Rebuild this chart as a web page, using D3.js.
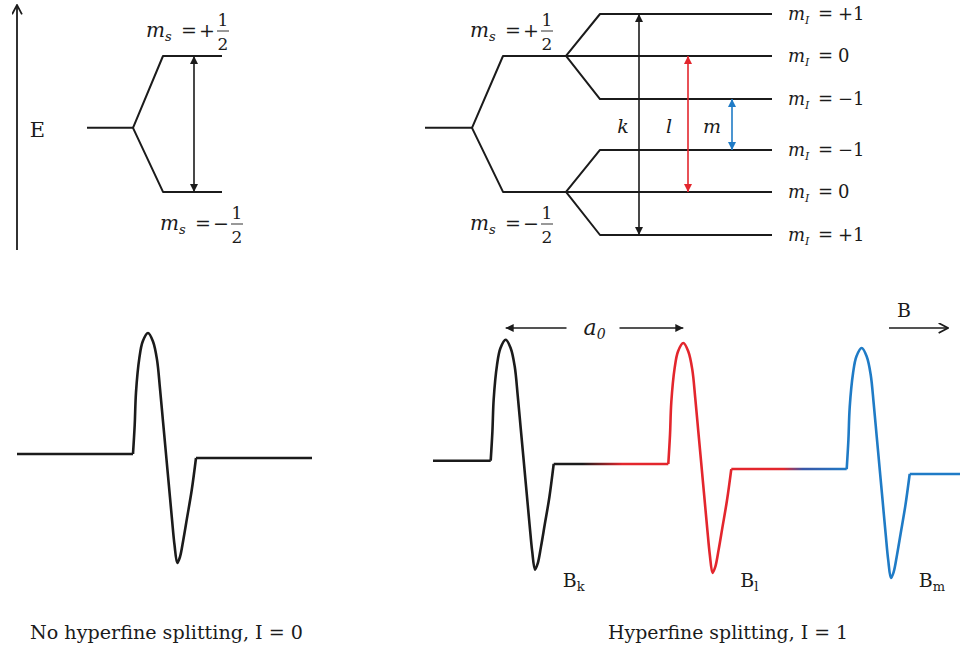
<!DOCTYPE html>
<html>
<head>
<meta charset="utf-8">
<script src="https://cdn.jsdelivr.net/npm/d3@7"></script>
<style>
body{margin:0;background:#fff}
svg{display:block}
</style>
</head>
<body>
<svg id="fig" width="960" height="649"></svg>
<script>
'use strict'

// ---- data ----
// energies in arbitrary units, +1 = highest hyperfine level, -1 = lowest
var centerLevel = -0.03;
var spinLevels = [0.62, -0.61];            // ms = +1/2, ms = -1/2
var spinSigns = ['+', '\u2212'];
var hyperLevels = [1.0, 0.62, 0.23, -0.23, -0.61, -1.0];
var hyperParent = [0, 0, 0, 1, 1, 1];
var hyperLabels = ['+1', '0', '\u22121', '\u22121', '0', '+1'];
var transNames = ['k', 'l', 'm'];
var transFrom = [0, 1, 2];
var transTo = [5, 4, 3];

// first-derivative line shape: field offset from line onset, signal (peak = 1)
var waveDx = [0, 1.7, 3, 6.3, 9.7, 15, 20, 24, 27, 30, 33, 36, 39, 41.5, 44.3, 47, 50.3, 54, 58.7, 63];
var waveAmp = [0, 0.24, 0.51, 0.79, 0.93, 1.0, 0.93, 0.78, 0.54, 0.27, 0.0, -0.27, -0.54, -0.75, -0.90, -0.85, -0.71, -0.53, -0.30];

// no splitting: one line
var singleOnset = [116];
var singleBaseBefore = [0];
var singleBaseAfter = [-0.033];
var singleFieldMax = 295;

// hyperfine splitting: three lines k, l, m
var tripleOnset = [57.7, 235.3, 413.7];
var tripleBaseBefore = [0, -0.027, -0.069];
var tripleBaseAfter = [-0.027, -0.069, -0.11];
var tripleNames = ['k', 'l', 'm'];
var tripleFieldMax = 527;

var captions = ['No hyperfine splitting, I = 0', 'Hyperfine splitting, I = 1'];

// ---- style ----
var ink = '#1b1b1b';
var red = '#e3262d';
var blue = '#1f7bc6';
var lineColors = [ink, red, blue];
var serif = '"DejaVu Serif", "Liberation Serif", serif';

var svg = d3.select('#fig');
var defs = svg.append('defs');

function solidHead(id, color){
	defs.append('marker')
		.attr('id', id)
		.attr('viewBox', '0 0 10 10')
		.attr('refX', 10).attr('refY', 5)
		.attr('markerWidth', 9).attr('markerHeight', 8)
		.attr('markerUnits', 'userSpaceOnUse')
		.attr('orient', 'auto-start-reverse')
		.append('path').attr('d', 'M0,0L10,5L0,10z').attr('fill', color);
}
function openHead(id, color){
	defs.append('marker')
		.attr('id', id)
		.attr('viewBox', '0 0 10 10')
		.attr('refX', 9.5).attr('refY', 5)
		.attr('markerWidth', 11).attr('markerHeight', 11)
		.attr('markerUnits', 'userSpaceOnUse')
		.attr('orient', 'auto-start-reverse')
		.append('path').attr('d', 'M1,0.5L9.5,5L1,9.5').attr('fill', 'none')
		.attr('stroke', color).attr('stroke-width', 1.6);
}
solidHead('hk', ink);
solidHead('hr', red);
solidHead('hb', blue);
openHead('ho', ink);

function arrow(x1, y1, x2, y2, color, w, startHead, endHead){
	var l = svg.append('line')
		.attr('x1', x1).attr('y1', y1).attr('x2', x2).attr('y2', y2)
		.attr('stroke', color).attr('stroke-width', w);
	if(startHead) l.attr('marker-start', 'url(#' + startHead + ')');
	if(endHead) l.attr('marker-end', 'url(#' + endHead + ')');
	return l;
}

function txt(x, y, size, s, italic, anchor){
	return svg.append('text')
		.attr('x', x).attr('y', y)
		.attr('font-family', serif)
		.attr('font-size', size)
		.attr('font-style', italic ? 'italic' : 'normal')
		.attr('text-anchor', anchor || 'start')
		.attr('fill', ink)
		.text(s);
}

// ---- energy level diagrams ----
var yE = d3.scaleLinear().domain([-1, 1]).range([235, 14]);
var levelLine = d3.line().x(function(d){return d[0];}).y(function(d){return yE(d[1]);});

function msLabel(x, y, sign){
	var m = txt(x, y, 20, 'm', true);
	m.append('tspan').attr('font-size', 13).attr('dy', 4).text('s');
	txt(x + 35, y, 19, '=');
	txt(x + 53, y, 19, sign);
	var fx = x + 77;
	txt(fx, y - 11, 17, '1', false, 'middle');
	svg.append('line').attr('x1', fx - 6).attr('x2', fx + 6)
		.attr('y1', y - 6).attr('y2', y - 6)
		.attr('stroke', ink).attr('stroke-width', 0.9);
	txt(fx, y + 13, 17, '2', false, 'middle');
}

function miLabel(x, y, val){
	var m = txt(x, y, 18, 'm', true);
	m.append('tspan').attr('font-size', 11).attr('dy', 4).text('I');
	txt(x + 30, y, 18, '=');
	txt(x + 50, y, 18, val);
}

function drawSpinBranch(xs){
	// xs: [centre start, branch point, level start, level end]
	svg.append('path').attr('d', levelLine([[xs[0], centerLevel], [xs[1], centerLevel]]))
		.attr('fill', 'none').attr('stroke', ink).attr('stroke-width', 2);
	spinLevels.forEach(function(e){
		svg.append('path').attr('d', levelLine([[xs[1], centerLevel], [xs[2], e], [xs[3], e]]))
			.attr('fill', 'none').attr('stroke', ink).attr('stroke-width', 2)
			.attr('stroke-linejoin', 'round');
	});
}

// left: electron spin only
drawSpinBranch([87, 133, 163, 222]);
arrow(194, yE(spinLevels[0]), 194, yE(spinLevels[1]), ink, 1.6, 'hk', 'hk');
msLabel(146, 37, spinSigns[0]);
msLabel(160, 230, spinSigns[1]);

// energy axis
arrow(17, 250, 17, 5, ink, 1.8, null, 'ho');
txt(37.5, 137, 21, 'E', false, 'middle');

// right: electron spin + nuclear spin I = 1
drawSpinBranch([425, 472, 503, 566]);
hyperLevels.forEach(function(e, i){
	var p = spinLevels[hyperParent[i]];
	svg.append('path').attr('d', levelLine([[566, p], [600, e], [772, e]]))
		.attr('fill', 'none').attr('stroke', ink).attr('stroke-width', 2)
		.attr('stroke-linejoin', 'round');
	miLabel(788, yE(e) + 6, hyperLabels[i]);
});
msLabel(470, 37, spinSigns[0]);
msLabel(470, 230, spinSigns[1]);

var transX = [639, 688, 732];
var transLabelX = [623, 669, 712];
var transHead = ['hk', 'hr', 'hb'];
transNames.forEach(function(n, i){
	arrow(transX[i], yE(hyperLevels[transFrom[i]]), transX[i], yE(hyperLevels[transTo[i]]),
		lineColors[i], 1.6, transHead[i], transHead[i]);
	txt(transLabelX[i], 133, 19, n, true, 'middle');
});

// ---- spectra ----
var ySig = d3.scaleLinear().domain([-1, 1]);
var waveLine = d3.line().curve(d3.curveCatmullRom.alpha(0.5));

function wavePoints(xs, ys, onset, before, after){
	return waveDx.map(function(dx, i){
		var a = i < waveAmp.length ? waveAmp[i] + before : after;
		return [xs(onset + dx), ys(a)];
	});
}

function drawWave(xs, ys, onset, before, after, color){
	svg.append('path')
		.attr('d', waveLine(wavePoints(xs, ys, onset, before, after)))
		.attr('fill', 'none').attr('stroke', color).attr('stroke-width', 2.6)
		.attr('stroke-linejoin', 'round');
}

function baseSeg(xs, ys, f0, f1, level, stroke){
	svg.append('line')
		.attr('x1', xs(f0)).attr('x2', xs(f1))
		.attr('y1', ys(level)).attr('y2', ys(level))
		.attr('stroke', stroke).attr('stroke-width', 2.6);
}

// no hyperfine splitting
var xS = d3.scaleLinear().domain([0, singleFieldMax]).range([17, 312]);
var yS = ySig.copy().range([454 + 121, 454 - 121]);
baseSeg(xS, yS, 0, singleOnset[0], singleBaseBefore[0], ink);
drawWave(xS, yS, singleOnset[0], singleBaseBefore[0], singleBaseAfter[0], ink);
baseSeg(xS, yS, singleOnset[0] + 63, singleFieldMax, singleBaseAfter[0], ink);

// hyperfine triplet
var xT = d3.scaleLinear().domain([0, tripleFieldMax]).range([433, 960]);
var yT = ySig.copy().range([460.7 + 121, 460.7 - 121]);

var g1 = defs.append('linearGradient').attr('id', 'kl').attr('gradientUnits', 'userSpaceOnUse')
	.attr('x1', xT(tripleOnset[0] + 63)).attr('x2', xT(tripleOnset[1])).attr('y1', 0).attr('y2', 0);
g1.append('stop').attr('offset', 0.25).attr('stop-color', ink);
g1.append('stop').attr('offset', 0.6).attr('stop-color', red);
var g2 = defs.append('linearGradient').attr('id', 'lm').attr('gradientUnits', 'userSpaceOnUse')
	.attr('x1', xT(tripleOnset[1] + 63)).attr('x2', xT(tripleOnset[2])).attr('y1', 0).attr('y2', 0);
g2.append('stop').attr('offset', 0.45).attr('stop-color', red);
g2.append('stop').attr('offset', 0.62).attr('stop-color', '#3a55a6');
g2.append('stop').attr('offset', 1).attr('stop-color', blue);
var gapStroke = ['url(#kl)', 'url(#lm)', blue];

baseSeg(xT, yT, 0, tripleOnset[0], tripleBaseBefore[0], ink);
tripleOnset.forEach(function(on, i){
	var next = i < tripleOnset.length - 1 ? tripleOnset[i + 1] : tripleFieldMax;
	baseSeg(xT, yT, on + 63, next, tripleBaseAfter[i], gapStroke[i]);
	drawWave(xT, yT, on, tripleBaseBefore[i], tripleBaseAfter[i], lineColors[i]);
	// field label beside each trough
	var t = txt(xT(on + 72), 587, 19, 'B');
	t.append('tspan').attr('font-size', 13).attr('dy', 4).text(tripleNames[i]);
});

// hyperfine constant between k and l peaks
var pk = xT(tripleOnset[0] + 15), pl = xT(tripleOnset[1] + 15);
var aMid = (pk + pl) / 2;
arrow(aMid - 28, 328, pk, 328, ink, 1.6, null, 'hk');
arrow(aMid + 25, 328, pl, 328, ink, 1.6, null, 'hk');
var at = txt(aMid - 11, 335, 22, 'a', true);
at.append('tspan').attr('font-size', 14).attr('dy', 4).text('0');

// field direction
txt(904, 317, 19, 'B', false, 'middle');
arrow(889, 328, 948, 328, ink, 1.6, null, 'ho');

// captions
txt(30, 639, 18, captions[0]).attr('textLength', 273).attr('lengthAdjust', 'spacingAndGlyphs');
txt(608, 639, 18, captions[1]).attr('textLength', 240).attr('lengthAdjust', 'spacingAndGlyphs');
</script>
</body>
</html>
